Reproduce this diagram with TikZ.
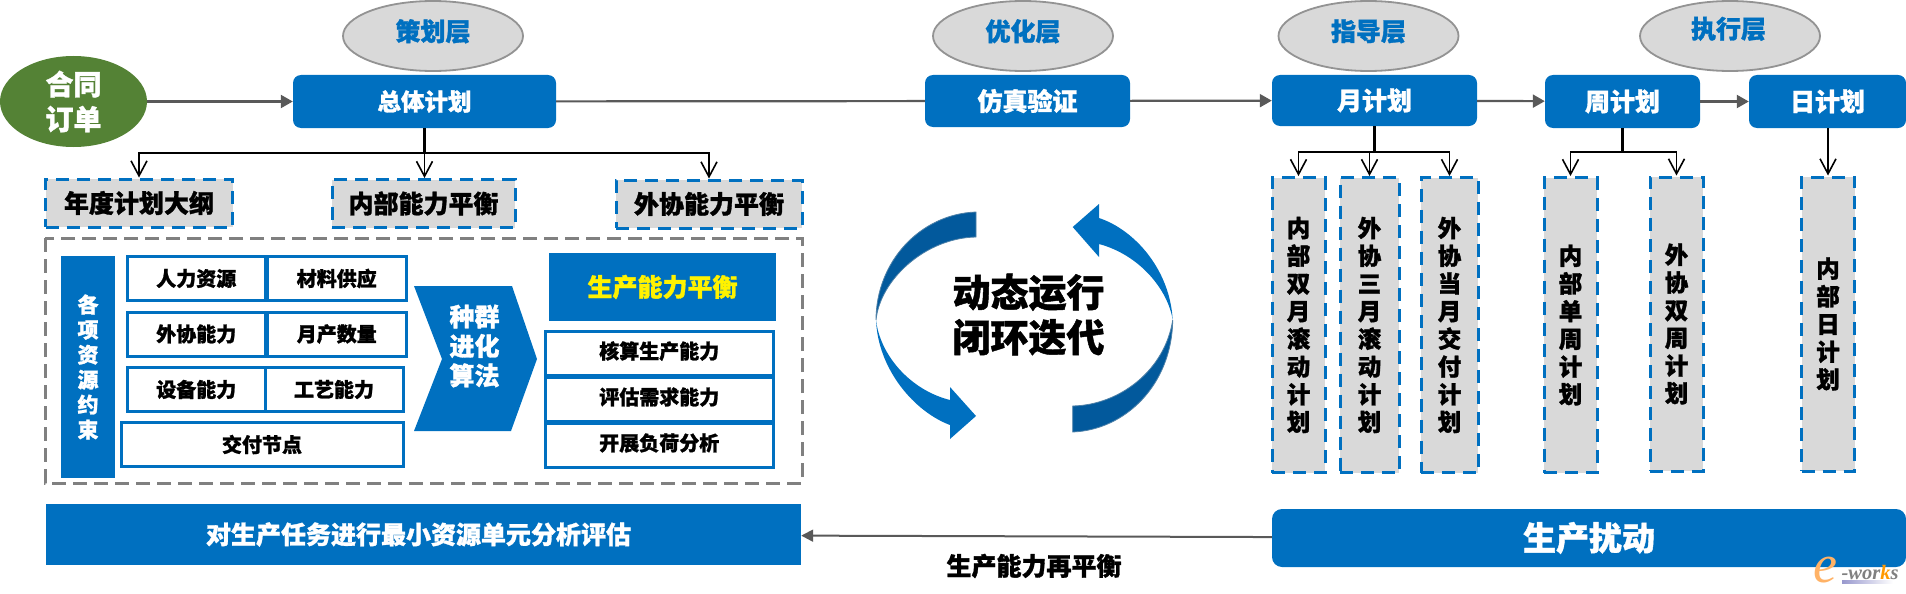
\documentclass[tikz,border=0pt]{standalone}
\usepackage{fontspec}
\setmainfont{Noto Sans CJK SC}[BoldFeatures={FakeBold=1.2}]
\newfontfamily\logofont{Liberation Serif}
\usepackage{tikz}
\usetikzlibrary{shapes,arrows.meta,positioning}
\newcommand{\pxfont}[1]{\fontsize{#1}{#1}\selectfont\bfseries}
\definecolor{planblue}{HTML}{0070C0}
\definecolor{darkblue}{HTML}{02599C}
\definecolor{loopedge}{HTML}{4F81A8}
\definecolor{boxgray}{HTML}{D9D9D9}
\definecolor{linegray}{HTML}{595959}
\definecolor{orderleaf}{HTML}{548235}
\tikzstyle{plan} = [rectangle, rounded corners=8pt, fill=planblue, align=center, inner sep=0pt, text=white, font=\pxfont{25}]
\tikzstyle{layer} = [draw=gray!85, line width=1.8pt, ellipse, fill=boxgray, minimum width=180pt, minimum height=70pt, inner sep=0pt, text=planblue, text depth=12pt, font=\pxfont{25}]
\tikzstyle{dbox} = [draw=planblue, line width=3pt, dash pattern=on 13pt off 8pt, rectangle, fill=boxgray, inner sep=0pt, align=center, minimum height=48pt, font=\pxfont{25}]
\tikzstyle{vbox} = [dbox, minimum height=295pt, font={\fontsize{23.5}{27.7}\selectfont\bfseries}]
\tikzstyle{cell} = [draw=planblue, line width=3pt, rectangle, fill=white, inner sep=0pt, minimum height=44pt, font=\pxfont{20}]
\tikzstyle{band} = [rectangle, fill=planblue, inner sep=0pt, align=center, text=white]
\tikzstyle{arr} = [draw=linegray, line width=2.2pt, -{Triangle[width=13pt,length=12pt]}]
\tikzstyle{fork} = [draw=black, line width=1.8pt, -{Straight Barb[width=16pt,length=15pt,line width=1.6pt]}]
\tikzstyle{stem} = [draw=black, line width=2.6pt]
\tikzstyle{swirl} = [draw=loopedge, line width=0.8pt]

\begin{document}
\begin{tikzpicture}[x=1pt,y=-1pt]
    \useasboundingbox (0,0) rectangle (1906,594);

    \node [ellipse, fill=orderleaf, minimum width=147pt, minimum height=91pt, inner sep=0pt, align=center, text=white, font={\fontsize{28}{35}\selectfont\bfseries}] (ht) at (73.5,101.5) {合同\\订单};

    \node [layer] (l1) at (433,36) {策划层};
    \node [layer] (l2) at (1023,36) {优化层};
    \node [layer] (l3) at (1368.5,36) {指导层};
    \node [layer, text depth=17pt] (l4) at (1730,36) {\hspace{-3pt}执行层};

    \node [plan, minimum width=263pt, minimum height=53pt, font=\pxfont{23.5}] (zt) at (424.5,101.5) {总体计划};
    \node [plan, minimum width=205pt, minimum height=52pt] (fz) at (1027.5,101) {仿真验证};
    \node [plan, minimum width=205pt, minimum height=51pt] (yj) at (1374.5,100.5) {月计划};
    \node [plan, minimum width=155pt, minimum height=53pt] (zj) at (1622.5,101.5) {周计划};
    \node [plan, minimum width=157pt, minimum height=53pt] (rj) at (1827.5,101.5) {日计划};

    \draw [arr] (ht) -- (zt);
    \draw [draw=linegray, line width=2.2pt] (zt) -- (fz);
    \draw [arr] (fz) -- (yj);
    \draw [arr] (yj) -- (zj);
    \draw [arr] (zj) -- (rj);

    \node [dbox, minimum width=187pt] (nd) at (139,203) {年度计划大纲};
    \node [dbox, minimum width=183pt] (nb) at (423.5,203.5) {内部能力平衡};
    \node [dbox, minimum width=186pt] (wx) at (709,204) {外协能力平衡};

    \coordinate (zfork) at (424.5,153);
    \draw [stem] (zt) -- (zfork);
    \draw [fork] (zfork) -| (nd.north);
    \draw [fork] (zfork) -| (wx.north);
    \draw [fork] (zfork) -- (zfork |- nb.north);

    \draw [draw=gray, line width=3pt, dash pattern=on 14pt off 7pt] (45,238) rectangle (802,483);

    \node [band, minimum width=54pt, minimum height=222pt, font={\fontsize{21}{25}\selectfont\bfseries}] (zy) at (88,367) {各\\项\\资\\源\\约\\束};

    \node [cell, minimum width=137.5pt] (c1) at (196.25,278.5) {人力资源};
    \node [cell, minimum width=138.5pt, right of = c1, node distance=140.5pt] (c2) {材料供应};
    \node [cell, minimum width=137.5pt, below of = c1, node distance=55.5pt] (c3) {外协能力};
    \node [cell, minimum width=138.5pt, below of = c2, node distance=55.5pt] (c4) {月产数量};
    \node [cell, minimum width=137.5pt, below of = c3, node distance=55.5pt] (c5) {设备能力};
    \node [cell, minimum width=138pt, right of = c5, node distance=137.75pt] (c6) {工艺能力};
    \node [cell, minimum width=282pt] (c7) at (262,444.5) {交付节点};

    \fill [planblue] (414,286) -- (512,286) -- (537,359) -- (511,431) -- (414,431) -- (442,359) -- cycle;
    \node [align=center, inner sep=0pt, text=white, font={\fontsize{25}{29.5}\selectfont\bfseries}] (sq) at (474.5,346) {种群\\进化\\算法};

    \node [band, minimum width=227pt, minimum height=68pt, text=yellow, font=\pxfont{25}] (sc) at (662.5,287) {生产能力平衡};
    \node [cell, minimum width=228.5pt, text depth=6pt] (a1) at (659.25,353) {核算生产能力};
    \node [cell, minimum width=228.5pt, text depth=6pt, below of = a1, node distance=46pt] (a2) {评估需求能力};
    \node [cell, minimum width=228.5pt, text depth=6pt, below of = a2, node distance=46pt] (a3) {开展负荷分析};

    % loop arrows
    \filldraw [swirl, fill=darkblue] (976,212) .. controls (920,214) and (876,262) .. (876,320) .. controls (880,280) and (925,238) .. (976,237) -- cycle;
    \fill [planblue] (876,320) .. controls (878,370) and (915,412) .. (950,425) -- (950,439) -- (976,416) -- (950,387) -- (950,400) .. controls (910,390) and (880,355) .. (876,320) -- cycle;
    \fill [planblue] (1172.7,320) .. controls (1170,270) and (1135,230) .. (1099,218) -- (1099,204) -- (1072.7,227) -- (1099,257) -- (1099,244) .. controls (1140,255) and (1168,290) .. (1172.7,320) -- cycle;
    \filldraw [swirl, fill=darkblue] (1172.7,320) .. controls (1172,385) and (1125,430) .. (1072.7,432) -- (1072.7,406) .. controls (1120,405) and (1165,370) .. (1172.7,320) -- cycle;
    \node [align=center, inner sep=0pt, font={\fontsize{38}{45}\selectfont\bfseries}] (dt) at (1028.5,314.5) {动态运行\\闭环迭代};

    \node [vbox, minimum width=53pt] (v1) at (1298.5,325) {内\\部\\双\\月\\滚\\动\\计\\划};
    \node [vbox, minimum width=59pt] (v2) at (1369.5,325) {外\\协\\三\\月\\滚\\动\\计\\划};
    \node [vbox, minimum width=57pt] (v3) at (1449.5,325) {外\\协\\当\\月\\交\\付\\计\\划};
    \node [vbox, minimum width=53pt] (v4) at (1570.5,325) {内\\部\\单\\周\\计\\划};
    \node [vbox, minimum width=53pt, minimum height=294pt] (v5) at (1676.5,324) {外\\协\\双\\周\\计\\划};
    \node [vbox, minimum width=53pt, minimum height=294pt] (v6) at (1828,324) {内\\部\\日\\计\\划};

    \coordinate (yfork) at (1374.5,152);
    \coordinate (wfork) at (1622.5,152);
    \draw [stem] (yj) -- (yfork);
    \draw [fork] (yfork) -| (v1.north);
    \draw [fork] (yfork) -| (v3.north);
    \draw [fork] (v2.north |- yfork) -- (v2.north);
    \draw [stem] (zj) -- (wfork);
    \draw [fork] (wfork) -| (v4.north);
    \draw [fork] (wfork) -| (v5.north);
    \draw [fork] (rj.south -| v6.north) -- (v6.north);

    \node [band, minimum width=755pt, minimum height=61pt, font=\pxfont{25}] (zx) at (423.5,534.5) {\hspace{-10pt}对生产任务进行最小资源单元分析评估};
    \node [plan, rounded corners=10pt, minimum width=634pt, minimum height=58pt, font=\pxfont{33}] (rd) at (1589,538) {生产扰动};
    \draw [draw=linegray, line width=2pt, -{Triangle[width=12pt,length=12pt]}] (rd) -- (zx);
    \node [inner sep=0pt, font=\pxfont{25}] (zp) at (1034,566) {生产能力再平衡};

    % logo
    \shade [left color=blue!35!gray!60, right color=white] (1842,580) rectangle (1893,583);
    \node [inner sep=0pt, text=orange!60, font={\logofont\fontsize{54}{54}\selectfont\itshape}] (lg) at (1825,570) {e};
    \node [inner sep=0pt, font={\logofont\fontsize{20.5}{20.5}\selectfont\bfseries\itshape}, text=gray] (lw) at (1870,572) {-wor\textcolor{orange!80!yellow}{k}s};
\end{tikzpicture}
\end{document}
